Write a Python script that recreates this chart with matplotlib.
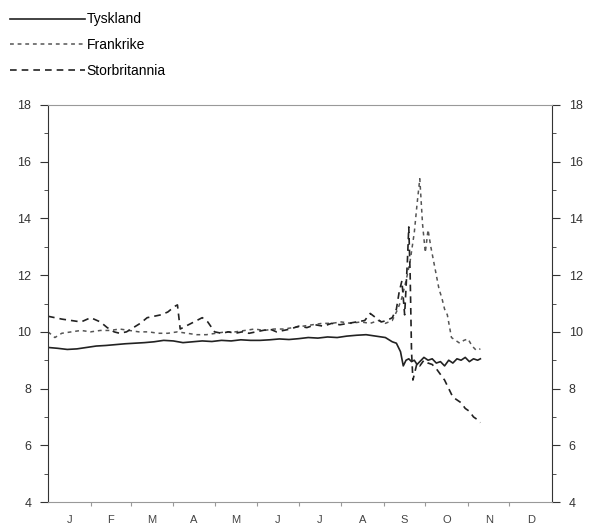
import matplotlib.pyplot as plt
from matplotlib.ticker import MultipleLocator

plt.rcParams['font.family'] = ['Liberation Sans', 'DejaVu Sans']

months = ["J", "F", "M", "A", "M", "J", "J", "A", "S", "O", "N", "D"]

# dag i året -> rente (%)
tysk_day = [0, 7, 14, 21, 28, 35, 42, 49, 56, 63, 70, 77, 84, 91, 98, 105,
            112, 119, 126, 133, 140, 147, 154, 161, 168, 175, 182, 189, 196,
            203, 210, 217, 224, 231, 238, 245, 250, 253, 256, 258, 260, 262,
            264, 266, 268, 270, 273, 276, 279, 282, 285, 288, 291, 294, 297,
            300, 303, 306, 309, 312, 314]
tysk_val = [9.45, 9.42, 9.38, 9.4, 9.45, 9.5, 9.52, 9.55, 9.58, 9.6, 9.62,
            9.65, 9.7, 9.68, 9.62, 9.65, 9.68, 9.66, 9.7, 9.68, 9.72, 9.7,
            9.7, 9.72, 9.75, 9.73, 9.76, 9.8, 9.78, 9.82, 9.8, 9.85, 9.88,
            9.9, 9.85, 9.8, 9.65, 9.6, 9.3, 8.8, 9.0, 9.05, 8.95, 9.0, 8.85,
            8.95, 9.1, 9.0, 9.05, 8.9, 8.95, 8.8, 9.0, 8.9, 9.05, 9.0, 9.1,
            8.95, 9.05, 9.0, 9.05]

fra_day = [0, 5, 10, 17, 24, 31, 38, 45, 52, 59, 66, 73, 80, 87, 94, 101,
           108, 115, 122, 129, 136, 143, 150, 157, 164, 171, 178, 185, 192,
           199, 206, 213, 220, 227, 234, 240, 245, 250, 254, 257, 260, 263,
           266, 268, 270, 272, 274, 276, 278, 280, 282, 284, 286, 288, 290,
           293, 296, 299, 302, 305, 308, 311, 314]
fra_val = [10.0, 9.8, 9.95, 10.0, 10.05, 10.0, 10.05, 10.05, 10.1, 10.05,
           10.0, 10.0, 9.95, 9.95, 10.0, 9.95, 9.9, 9.9, 9.95, 10.0, 10.0,
           10.05, 10.1, 10.05, 10.1, 10.1, 10.15, 10.2, 10.25, 10.3, 10.3,
           10.35, 10.3, 10.35, 10.3, 10.4, 10.3, 10.4, 10.8, 11.2, 11.8,
           12.5, 13.5, 14.5, 15.4, 13.8, 12.8, 13.6, 13.0, 12.5, 12.0, 11.5,
           11.2, 10.8, 10.6, 9.8, 9.7, 9.6, 9.7, 9.75, 9.5, 9.35, 9.4]

gb_day = [0, 5, 10, 17, 24, 31, 38, 43, 48, 52, 57, 62, 67, 72, 77, 82, 87,
          92, 94, 96, 100, 104, 108, 112, 116, 121, 126, 131, 136, 141, 146,
          151, 156, 161, 166, 171, 176, 182, 188, 194, 200, 206, 212, 218,
          224, 230, 234, 238, 242, 246, 250, 253, 255, 257, 259, 261, 262,
          263, 264, 265, 268, 270, 273, 276, 279, 282, 285, 288, 291, 294,
          297, 300, 303, 306, 309, 312, 314]
gb_val = [10.55, 10.5, 10.45, 10.4, 10.35, 10.5, 10.35, 10.15, 10.0, 9.95,
          10.0, 10.15, 10.3, 10.5, 10.55, 10.6, 10.7, 10.9, 10.95, 10.1,
          10.2, 10.3, 10.4, 10.5, 10.35, 10.0, 9.95, 10.0, 9.95, 10.0, 9.95,
          10.0, 10.05, 10.1, 10.0, 10.05, 10.1, 10.2, 10.15, 10.25, 10.2,
          10.3, 10.25, 10.3, 10.35, 10.4, 10.65, 10.5, 10.35, 10.4, 10.5,
          10.8, 11.4, 11.8, 10.6, 12.5, 13.7, 12.0, 9.3, 8.3, 8.9, 8.8, 9.0,
          8.9, 8.85, 8.7, 8.5, 8.3, 8.0, 7.7, 7.6, 7.5, 7.3, 7.2, 7.0, 6.9,
          6.8]

month_len = [31, 29, 31, 30, 31, 30, 31, 31, 30, 31, 30, 31]
edges = [sum(month_len[:i]) for i in range(13)]
centers = [(edges[i] + edges[i + 1]) / 2 for i in range(12)]

fig = plt.figure(figsize=(5.95, 5.26), dpi=100)
ax = fig.add_axes([0.0807, 0.0456, 0.847, 0.7548])

l1, = ax.plot(tysk_day, tysk_val, color="#222222", lw=1.2, label="Tyskland")
l2, = ax.plot(fra_day, fra_val, color="#555555", lw=1.1,
              linestyle=(0, (2.5, 2.5)), label="Frankrike")
l3, = ax.plot(gb_day, gb_val, color="#222222", lw=1.2,
              linestyle=(0, (4, 3)), label="Storbritannia")

ax.set_xlim(0, 366)
ax.set_ylim(4, 18)
ax.yaxis.set_major_locator(MultipleLocator(2))
ax.yaxis.set_minor_locator(MultipleLocator(1))
ax.set_xticks(edges[1:-1])
ax.set_xticklabels([])
ax.set_xticks(centers, minor=True)
ax.set_xticklabels(months, minor=True)

ax.tick_params(axis="y", which="both", direction="out", left=True,
               right=True, labelleft=True, labelright=True,
               labelsize=9, colors="#333333")
ax.tick_params(axis="y", which="major", length=6, pad=6)
ax.tick_params(axis="y", which="minor", length=3)
ax.tick_params(axis="x", which="major", direction="out", length=3,
               color="#999999")
ax.tick_params(axis="x", which="minor", length=0, labelsize=8,
               colors="#444444", pad=9)

for side in ["left", "right"]:
    ax.spines[side].set_color("#333333")
for side in ["top", "bottom"]:
    ax.spines[side].set_color("#999999")

fig.legend(handles=[l1, l2, l3], loc="upper left",
           bbox_to_anchor=(-0.004, 1.0), frameon=False, fontsize=10,
           handlelength=5.4, handletextpad=0.1, labelspacing=0.85)

fig.savefig("out.png", dpi=100)
